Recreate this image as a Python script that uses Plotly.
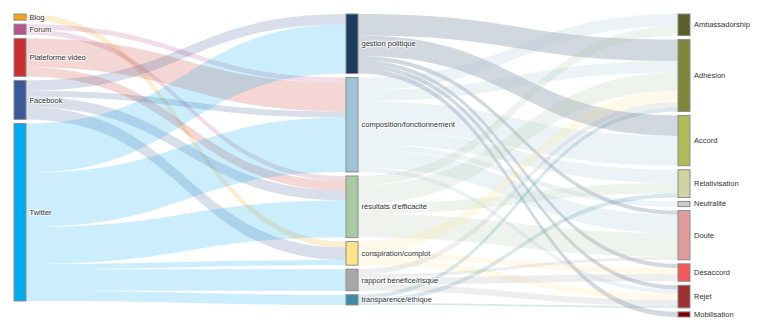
import plotly.graph_objects as go

# Nodes (three columns)
sources_l = ["Blog", "Forum", "Plateforme video", "Facebook", "Twitter"]
themes = ["gestion politique", "composition/fonctionnement", "résultats d'efficacité",
          "conspiration/complot", "rapport bénéfice/risque", "transparence/éthique"]
attitudes = ["Ambassadorship", "Adhésion", "Accord", "Relativisation", "Neutralité",
             "Doute", "Désaccord", "Rejet", "Mobilisation"]

src_colors = ["#f5a31a", "#b5558c", "#c8302f", "#3b5998", "#00acee"]
theme_colors = ["#1c3d5e", "#9fc3d6", "#a9c9a3", "#ffe38f", "#a8a8a8", "#3e8aa3"]
att_colors = ["#5a5e2c", "#7f883a", "#aebb58", "#cfd4a2", "#cccccc",
              "#e09c9c", "#f15a5a", "#9b3030", "#7d0000"]

# Links: (source, target, value)
platform_to_theme = [
    ("Blog", "conspiration/complot", 6),
    ("Forum", "composition/fonctionnement", 5),
    ("Forum", "résultats d'efficacité", 5),
    ("Plateforme video", "composition/fonctionnement", 28),
    ("Plateforme video", "résultats d'efficacité", 9),
    ("Facebook", "gestion politique", 10),
    ("Facebook", "composition/fonctionnement", 6),
    ("Facebook", "résultats d'efficacité", 10),
    ("Facebook", "conspiration/complot", 12),
    ("Twitter", "gestion politique", 48),
    ("Twitter", "composition/fonctionnement", 53),
    ("Twitter", "résultats d'efficacité", 36),
    ("Twitter", "conspiration/complot", 5),
    ("Twitter", "rapport bénéfice/risque", 21),
    ("Twitter", "transparence/éthique", 10),
]
theme_to_attitude = [
    ("gestion politique", "Adhésion", 21),
    ("gestion politique", "Accord", 20),
    ("gestion politique", "Doute", 4),
    ("gestion politique", "Désaccord", 4),
    ("gestion politique", "Rejet", 4),
    ("gestion politique", "Mobilisation", 5),
    ("composition/fonctionnement", "Ambassadorship", 12),
    ("composition/fonctionnement", "Adhésion", 11),
    ("composition/fonctionnement", "Accord", 29),
    ("composition/fonctionnement", "Relativisation", 13),
    ("composition/fonctionnement", "Neutralité", 5),
    ("composition/fonctionnement", "Doute", 18),
    ("composition/fonctionnement", "Rejet", 4),
    ("résultats d'efficacité", "Ambassadorship", 9),
    ("résultats d'efficacité", "Adhésion", 18),
    ("résultats d'efficacité", "Relativisation", 10),
    ("résultats d'efficacité", "Doute", 23),
    ("conspiration/complot", "Adhésion", 11),
    ("conspiration/complot", "Désaccord", 6),
    ("conspiration/complot", "Rejet", 6),
    ("rapport bénéfice/risque", "Adhésion", 5),
    ("rapport bénéfice/risque", "Doute", 3),
    ("rapport bénéfice/risque", "Désaccord", 7),
    ("rapport bénéfice/risque", "Rejet", 6),
    ("transparence/éthique", "Adhésion", 4),
    ("transparence/éthique", "Relativisation", 4),
    ("transparence/éthique", "Rejet", 2),
]

# ---- style / layout constants ----
W, H = 764, 330
ML, MR, MT, MB = 14, 74, 14, 13
PAD = 4
THICK = 12
FONT = "Liberation Sans, Arial, sans-serif"
FSIZE = 7.5
TXT = "#333333"

labels = sources_l + themes + attitudes
colors = src_colors + theme_colors + att_colors
idx = {l: i for i, l in enumerate(labels)}
columns = [sources_l, themes, attitudes]


def rgba(hexc, a):
    h = hexc.lstrip("#")
    r, g, b = int(h[0:2], 16), int(h[2:4], 16), int(h[4:6], 16)
    return f"rgba({r},{g},{b},{a})"


links = platform_to_theme + theme_to_attitude
src = [idx[s] for s, t, v in links]
tgt = [idx[t] for s, t, v in links]
val = [v for s, t, v in links]
lcol = [rgba(colors[idx[s]], 0.2) for s, t, v in links]

# node sizes (max of in / out), same as the sankey's own rule
n = len(labels)
vin = [0] * n
vout = [0] * n
for s, t, v in zip(src, tgt, val):
    vout[s] += v
    vin[t] += v
nval = [max(a, b) for a, b in zip(vin, vout)]

dw = W - ML - MR
dh = H - MT - MB
ky = min((dh - (len(c) - 1) * PAD) / sum(nval[idx[l]] for l in c) for c in columns)

node_x = [0.0] * n
node_y = [0.0] * n
for ci, col in enumerate(columns):
    xc = (THICK / 2 + ci * (dw - THICK) / (len(columns) - 1)) / dw
    y = 0.0
    for l in col:
        i = idx[l]
        h = nval[i] * ky
        node_x[i] = xc
        node_y[i] = (y + h / 2) / dh
        y += h + PAD

# last column labels drawn as annotations on the right side of the nodes
node_labels = [l if l not in attitudes else "" for l in labels]

fig = go.Figure(go.Sankey(
    arrangement="fixed",
    node=dict(
        label=node_labels,
        color=colors,
        pad=PAD,
        thickness=THICK,
        x=node_x,
        y=node_y,
        line=dict(color="#8c8c8c", width=1),
    ),
    link=dict(source=src, target=tgt, value=val, color=lcol),
    textfont=dict(family=FONT, size=FSIZE, color=TXT),
    hoverinfo="none",
))

annotations = []
for l in attitudes:
    i = idx[l]
    annotations.append(dict(
        x=1, y=1 - node_y[i], xref="paper", yref="paper",
        text=l, showarrow=False, xanchor="left", yanchor="middle",
        xshift=2, font=dict(family=FONT, size=FSIZE, color=TXT),
    ))

fig.update_layout(
    width=W, height=H,
    margin=dict(l=ML, r=MR, t=MT, b=MB),
    paper_bgcolor="white",
    plot_bgcolor="white",
    annotations=annotations,
)

fig.write_html("out.html")
